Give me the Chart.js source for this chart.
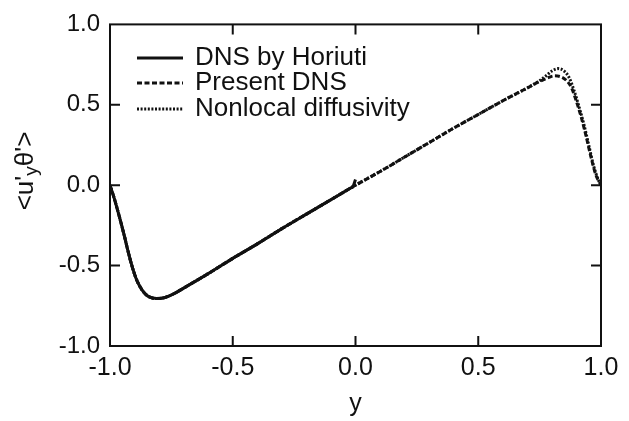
<!DOCTYPE html>
<html>
<head>
<meta charset="utf-8">
<script src="https://cdn.jsdelivr.net/npm/chart.js@4.4.0/dist/chart.umd.min.js"></script>
<style>
    html, body { margin: 0; padding: 0; background: #fff; }
    #flux_chart { display: block; }
</style>
</head>
<body>
<canvas id="flux_chart" width="629" height="421"></canvas>
<script>
// lower half of the channel, shared by all three profiles
const lowerX = [-1.0, -0.985, -0.97, -0.955, -0.94, -0.925, -0.91, -0.895, -0.88, -0.86, -0.84, -0.81, -0.78, -0.74, -0.70, -0.60, -0.50, -0.40, -0.30, -0.20, -0.10];
const lowerFlux = [0.0, -0.07, -0.15, -0.235, -0.325, -0.42, -0.505, -0.575, -0.625, -0.67, -0.695, -0.705, -0.70, -0.675, -0.64, -0.55, -0.455, -0.365, -0.27, -0.18, -0.09];

// Horiuti's data stops at the centre line
const horiutiEndX = [-0.05, -0.02, -0.01, 0.0];
const horiutiEndFlux = [-0.045, -0.018, -0.008, 0.035];

// upper half, present DNS
const presentX = [0.0, 0.1, 0.2, 0.3, 0.4, 0.5, 0.6, 0.7, 0.75, 0.78, 0.81, 0.84, 0.86, 0.88, 0.90, 0.92, 0.94, 0.96, 0.98, 1.0];
const presentFlux = [0.0, 0.085, 0.175, 0.265, 0.355, 0.44, 0.525, 0.605, 0.645, 0.665, 0.68, 0.672, 0.65, 0.605, 0.52, 0.42, 0.30, 0.17, 0.06, 0.0];

// upper half, nonlocal diffusivity model
const nonlocalX = [0.0, 0.1, 0.2, 0.3, 0.4, 0.5, 0.6, 0.7, 0.75, 0.78, 0.80, 0.825, 0.85, 0.87, 0.89, 0.91, 0.93, 0.95, 0.97, 0.99, 1.0];
const nonlocalFlux = [0.0, 0.085, 0.175, 0.265, 0.355, 0.44, 0.525, 0.605, 0.65, 0.685, 0.71, 0.725, 0.71, 0.67, 0.59, 0.49, 0.38, 0.25, 0.12, 0.03, 0.0];

const seriesLabels = ['DNS by Horiuti', 'Present DNS', 'Nonlocal diffusivity'];
const axisTicks = [-0.5, 0.0, 0.5];

const FluxChart = (function () {

    const FONT = '"Liberation Sans", Arial, Helvetica, sans-serif';
    const INK = '#111';

    let toPoints = function (xs, ys) {
        return xs.map(function (x, i) {
            return { x: x, y: ys[i] };
        });
    };

    let fmt = function (v) {
        if (Math.abs(v) < 1e-9) return '0.0';
        return v.toFixed(1);
    };

    // box around the plot, inward ticks on all four sides, legend and y title
    let framePlugin = {
        id: 'frame',
        afterDraw: function (chart) {
            const ctx = chart.ctx;
            const area = chart.chartArea;
            const xs = chart.scales.x;
            const ys = chart.scales.y;
            const tick = 10;

            ctx.save();
            ctx.strokeStyle = INK;
            ctx.lineWidth = 2;
            ctx.strokeRect(area.left, area.top, area.right - area.left, area.bottom - area.top);

            ctx.beginPath();
            axisTicks.forEach(function (v) {
                let px = xs.getPixelForValue(v);
                ctx.moveTo(px, area.bottom);
                ctx.lineTo(px, area.bottom - tick);
                ctx.moveTo(px, area.top);
                ctx.lineTo(px, area.top + tick);

                let py = ys.getPixelForValue(v);
                ctx.moveTo(area.left, py);
                ctx.lineTo(area.left + tick, py);
                ctx.moveTo(area.right, py);
                ctx.lineTo(area.right - tick, py);
            });
            ctx.stroke();

            // legend
            ctx.font = '26px ' + FONT;
            ctx.fillStyle = INK;
            ctx.textBaseline = 'middle';
            ctx.textAlign = 'left';
            const rows = [58, 83, 109];
            chart.data.datasets.forEach(function (ds, i) {
                ctx.save();
                ctx.lineWidth = ds.borderWidth;
                ctx.strokeStyle = ds.borderColor;
                ctx.setLineDash(ds.borderDash || []);
                ctx.beginPath();
                ctx.moveTo(137, rows[i]);
                ctx.lineTo(183, rows[i]);
                ctx.stroke();
                ctx.restore();
                ctx.fillText(ds.label, 195, rows[i]);
            });

            // y title: <u'yθ'> with a subscript y
            ctx.translate(26, 171);
            ctx.rotate(-Math.PI / 2);
            const big = '26px ' + FONT;
            const small = '19px ' + FONT;
            const parts = [['<u\'', big, 0], ['y', small, 6], ['θ\'>', big, 0]];
            let total = 0;
            parts.forEach(function (p) {
                ctx.font = p[1];
                total += ctx.measureText(p[0]).width;
            });
            let cx = -total / 2;
            parts.forEach(function (p) {
                ctx.font = p[1];
                ctx.fillText(p[0], cx, p[2]);
                cx += ctx.measureText(p[0]).width;
            });
            ctx.restore();
        }
    };

    return {
        init: function () {
            let ctx = document.getElementById('flux_chart').getContext('2d');

            new Chart(ctx, {
                type: 'line',
                data: {
                    datasets: [{
                            label: seriesLabels[0],
                            data: toPoints(lowerX.concat(horiutiEndX), lowerFlux.concat(horiutiEndFlux)),
                            borderColor: INK,
                            borderWidth: 3,
                            borderDash: []
                        },
                        {
                            label: seriesLabels[1],
                            data: toPoints(lowerX.concat(presentX), lowerFlux.concat(presentFlux)),
                            borderColor: INK,
                            borderWidth: 3,
                            borderDash: [5, 2.5]
                        },
                        {
                            label: seriesLabels[2],
                            data: toPoints(lowerX.concat(nonlocalX), lowerFlux.concat(nonlocalFlux)),
                            borderColor: INK,
                            borderWidth: 3,
                            borderDash: [2, 1.6]
                        }
                    ]
                },
                options: {
                    responsive: false,
                    animation: false,
                    devicePixelRatio: 1,
                    layout: {
                        padding: { left: 0, right: 28, top: 21, bottom: 0 }
                    },
                    elements: {
                        point: { radius: 0 },
                        line: { cubicInterpolationMode: 'monotone', fill: false }
                    },
                    plugins: {
                        legend: { display: false },
                        tooltip: { enabled: false }
                    },
                    scales: {
                        x: {
                            type: 'linear',
                            min: -1,
                            max: 1,
                            grid: { display: false, drawTicks: false },
                            border: { display: false },
                            ticks: {
                                stepSize: 0.5,
                                padding: 7,
                                maxRotation: 0,
                                color: INK,
                                font: { family: FONT, size: 25 },
                                callback: fmt
                            },
                            title: {
                                display: true,
                                text: 'y',
                                color: INK,
                                font: { family: FONT, size: 25 },
                                padding: { top: 0, bottom: 2 }
                            },
                            afterFit: function (scale) {
                                scale.height = 75;
                            }
                        },
                        y: {
                            type: 'linear',
                            min: -1,
                            max: 1,
                            grid: { display: false, drawTicks: false },
                            border: { display: false },
                            ticks: {
                                stepSize: 0.5,
                                padding: 10,
                                color: INK,
                                font: { family: FONT, size: 24 },
                                callback: fmt
                            },
                            afterFit: function (scale) {
                                scale.width = 110;
                            }
                        }
                    }
                },
                plugins: [framePlugin]
            });
        }
    };

}());

document.addEventListener('DOMContentLoaded', function () {
    FluxChart.init();
});
</script>
</body>
</html>
